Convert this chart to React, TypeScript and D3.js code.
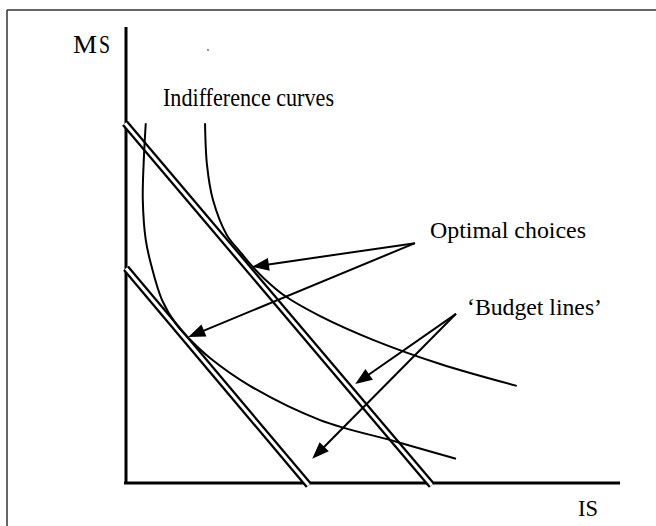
import React from "react";
import * as d3 from "d3";

// ---- data (abstract units: IS on x, MS on y, both 0..100) ----
const axisX: [number, number][] = [[-0.4, 0], [100, 0]];
const axisY: [number, number][] = [[0, 0], [0, 100]];

const budgetUpper: [number, number][] = [[-0.2, 78.9], [61.9, -0.5]];
const budgetLower: [number, number][] = [[0, 47.1], [37.0, -0.5]];

const curveHigh: [number, number][] = [
  [16.0, 78.9], [16.4, 69.7], [17.6, 62.1], [20.4, 54.4], [23.1, 50.7],
  [25.5, 47.6], [28.1, 44.7], [32.2, 41.0], [39.3, 36.6], [50.0, 31.4],
  [63.6, 26.1], [79.1, 21.3],
];
const curveLow: [number, number][] = [
  [4.0, 78.9], [3.6, 70.8], [3.4, 62.1], [4.0, 53.3], [5.1, 47.8],
  [7.3, 40.1], [10.3, 34.6], [13.0, 31.4], [17.0, 27.4], [25.1, 21.3],
  [39.3, 13.8], [54.9, 9.0], [66.8, 5.3],
];

const optimalOrigin: [number, number] = [58.5, 52.6];
const optimalTargets: [number, number][] = [[25.5, 47.4], [12.6, 32.0]];
const budgetOrigin: [number, number] = [66.8, 37.1];
const budgetTargets: [number, number][] = [[46.4, 21.7], [37.7, 5.3]];

const labels = {
  m: "M",
  s: "S",
  is: "IS",
  curves: "Indifference curves",
  optimal: "Optimal choices",
  budget: "\u2018Budget lines\u2019",
};

const W = 656;
const H = 526;

export default function App() {
  const x = d3.scaleLinear().domain([0, 100]).range([126, 620]);
  const y = d3.scaleLinear().domain([0, 100]).range([483, 27]);

  const line = d3.line<[number, number]>().x((d) => x(d[0])).y((d) => y(d[1]));
  const smooth = d3
    .line<[number, number]>()
    .x((d) => x(d[0]))
    .y((d) => y(d[1]))
    .curve(d3.curveCatmullRom.alpha(0.5));

  const arrow = (from: [number, number], to: [number, number], key: string) => {
    const x0 = x(from[0]), y0 = y(from[1]);
    const x1 = x(to[0]), y1 = y(to[1]);
    const dx = x1 - x0, dy = y1 - y0;
    const len = Math.hypot(dx, dy);
    const ux = dx / len, uy = dy / len;
    const hl = 17, hw = 6.5;
    const bx = x1 - ux * hl, by = y1 - uy * hl;
    const pts = [
      [x1, y1],
      [bx - uy * hw, by + ux * hw],
      [bx + uy * hw, by - ux * hw],
    ];
    return (
      <g key={key}>
        <line x1={x0} y1={y0} x2={bx + ux * 2} y2={by + uy * 2} stroke="#000" strokeWidth={2} />
        <polygon points={pts.map((p) => p.join(",")).join(" ")} fill="#000" />
      </g>
    );
  };

  const font = "'Liberation Serif', 'Times New Roman', serif";
  const textProps = { fontFamily: font, fill: "#000", lengthAdjust: "spacingAndGlyphs" as const };

  return (
    <svg
      width={W}
      height={H}
      style={{ position: "absolute", left: 0, top: 0, background: "#fff" }}
    >
      <rect x={0} y={0} width={W} height={H} fill="#fff" />
      {/* frame */}
      <line x1={7} y1={10} x2={W} y2={10} stroke="#333" strokeWidth={1.5} />
      <line x1={7} y1={10} x2={7} y2={H} stroke="#333" strokeWidth={1.5} />

      {/* axes */}
      <path d={line(axisY) || ""} stroke="#000" strokeWidth={3} fill="none" />
      <path d={line(axisX) || ""} stroke="#000" strokeWidth={3} fill="none" />

      {/* budget lines (double) */}
      {[budgetUpper, budgetLower].map((b, i) => (
        <g key={"b" + i}>
          <path d={line(b) || ""} stroke="#000" strokeWidth={7.5} fill="none" />
          <path d={line(b) || ""} stroke="#fff" strokeWidth={3} fill="none" />
        </g>
      ))}

      {/* indifference curves */}
      <path d={smooth(curveHigh) || ""} stroke="#000" strokeWidth={2} fill="none" />
      <path d={smooth(curveLow) || ""} stroke="#000" strokeWidth={2} fill="none" />

      {/* arrows */}
      {optimalTargets.map((t, i) => arrow(optimalOrigin, t, "o" + i))}
      {budgetTargets.map((t, i) => arrow(budgetOrigin, t, "bt" + i))}

      {/* stray dot */}
      <circle cx={208} cy={50} r={0.9} fill="#666" />

      {/* labels */}
      <text x={73} y={53} fontSize={26} textLength={24} {...textProps}>{labels.m}</text>
      <text x={99} y={53} fontSize={26} textLength={11} {...textProps}>{labels.s}</text>
      <text x={163} y={106} fontSize={25} textLength={171} {...textProps}>{labels.curves}</text>
      <text x={430} y={238} fontSize={24} textLength={156} {...textProps}>{labels.optimal}</text>
      <text x={467} y={315} fontSize={24} textLength={135} {...textProps}>{labels.budget}</text>
      <text x={578} y={516} fontSize={24} textLength={20} {...textProps}>{labels.is}</text>
    </svg>
  );
}
